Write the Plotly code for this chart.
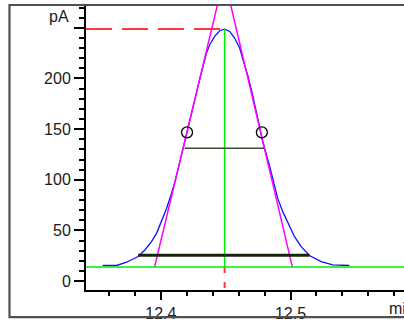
"""
Chromatogram peak with width/tangent construction (half height, 5 % height, tangents).
"""

import plotly.graph_objects as go

# Peak signal
time_min = [12.3552, 12.3659, 12.3736, 12.3825, 12.3877, 12.3928, 12.3967, 12.4005,
            12.4044, 12.4077, 12.4108, 12.4146, 12.4185, 12.4236, 12.4300, 12.4352,
            12.4377, 12.4415, 12.4454, 12.4492, 12.4531, 12.4569, 12.4608, 12.4633,
            12.4672, 12.4710, 12.4748, 12.4787, 12.4838, 12.4877, 12.4902, 12.4941,
            12.4979, 12.5031, 12.5082, 12.5146, 12.5236, 12.5325, 12.5454]
signal_pA = [15.4, 15.4, 18.6, 24.2, 30.7, 38.9, 47.1, 58.5,
             71.6, 84.6, 97.7, 117.4, 138.3, 166.4, 199.0, 225.2,
             233.3, 241.5, 247.1, 248.7, 246.4, 239.9, 230.1, 218.6,
             202.3, 182.6, 159.8, 137.0, 114.0, 94.4, 81.4, 68.3,
             58.5, 43.8, 34.0, 25.2, 19.3, 16.0, 15.4]

baseline_pA = 14.0
apex_time = 12.4492
apex_pA = 248.7

# tangents through the inflection points (left foot, intersection, right foot)
tangent_time = [12.3952, 12.4488, 12.5014]
tangent_pA = [14.0, 300.0, 14.0]

# width at half height and at 5 % height
half_time = [12.4185, 12.4795]
half_pA = [131.1, 131.1]
foot_time = [12.3825, 12.5146]
foot_pA = [25.5, 25.5]

# inflection markers
inflect_time = [12.4202, 12.4779]
inflect_pA = [146.8, 146.8]

x_range = [12.3423, 12.5875]
y_range = [-8.8, 272.5]

FONT = dict(family="Liberation Sans, Arial, sans-serif", size=16, color="#1a1a1a")

fig = go.Figure()

# red dashed apex level / retention time marker
fig.add_trace(go.Scatter(
    x=[x_range[0], apex_time], y=[apex_pA, apex_pA], mode="lines",
    line=dict(color="#ff3838", width=2, dash="26px,10px"), hoverinfo="skip"))
fig.add_trace(go.Scatter(
    x=[apex_time, apex_time], y=[baseline_pA, y_range[0]], mode="lines",
    line=dict(color="#ff3838", width=2, dash="6px,9px"), hoverinfo="skip"))

# signal
fig.add_trace(go.Scatter(
    x=time_min, y=signal_pA, mode="lines",
    line=dict(color="#1010ff", width=1.3)))

# tangents
fig.add_trace(go.Scatter(
    x=tangent_time, y=tangent_pA, mode="lines",
    line=dict(color="#ff00ff", width=1.5), hoverinfo="skip"))

# baseline and apex drop line
fig.add_trace(go.Scatter(
    x=x_range, y=[baseline_pA, baseline_pA], mode="lines",
    line=dict(color="#00ee00", width=1.5), hoverinfo="skip"))
fig.add_trace(go.Scatter(
    x=[apex_time, apex_time], y=[baseline_pA, apex_pA], mode="lines",
    line=dict(color="#00ee00", width=1.5), hoverinfo="skip"))

# widths
fig.add_trace(go.Scatter(
    x=half_time, y=half_pA, mode="lines",
    line=dict(color="#3a4a34", width=1.5), hoverinfo="skip"))
fig.add_trace(go.Scatter(
    x=foot_time, y=foot_pA, mode="lines",
    line=dict(color="#16240e", width=3), hoverinfo="skip"))

# inflection points
fig.add_trace(go.Scatter(
    x=inflect_time, y=inflect_pA, mode="markers",
    marker=dict(symbol="circle-open", size=11, color="black", line=dict(width=1.3))))

# outer frame
fig.add_shape(
    type="rect", xref="paper", yref="paper",
    x0=-0.2406, x1=1.1, y0=-0.0951, y1=1.0,
    line=dict(color="#505050", width=2.2), layer="above")

fig.add_annotation(
    text="pA", xref="paper", x=0, y=261, xanchor="right", xshift=-15,
    showarrow=False, font=FONT)
fig.add_annotation(
    text="min", xref="paper", yref="paper", x=(387 - 86) / 318, y=0,
    xanchor="left", yanchor="top", yshift=-8, showarrow=False, font=FONT)

fig.update_layout(
    width=404, height=322,
    margin=dict(l=86, r=0, t=5, b=30),
    paper_bgcolor="white", plot_bgcolor="white",
    showlegend=False,
    font=FONT,
)
fig.update_xaxes(
    range=x_range, showgrid=False, zeroline=False,
    showline=True, linecolor="black", linewidth=2,
    ticks="outside", ticklen=8, tickwidth=1.5, tickcolor="black",
    tick0=12.0, dtick=0.1, tickformat=".1f", tickfont=FONT,
    minor=dict(ticks="outside", dtick=0.02, ticklen=4, tickwidth=1.5, tickcolor="black"),
)
fig.update_yaxes(
    range=y_range, showgrid=False, zeroline=False,
    showline=True, linecolor="black", linewidth=2,
    ticks="outside", ticklen=10, tickwidth=1.5, tickcolor="black",
    tickvals=[0, 50, 100, 150, 200, 250], ticktext=["0", "50", "100", "150", "200", ""],
    tickfont=FONT,
    minor=dict(ticks="outside", dtick=10, ticklen=5, tickwidth=1.5, tickcolor="black"),
)

# the page's default body margin would shift the chart by 8 px
fig.write_html(
    "out.html",
    config={"displayModeBar": False},
    post_script="document.body.style.margin='0px';",
)
